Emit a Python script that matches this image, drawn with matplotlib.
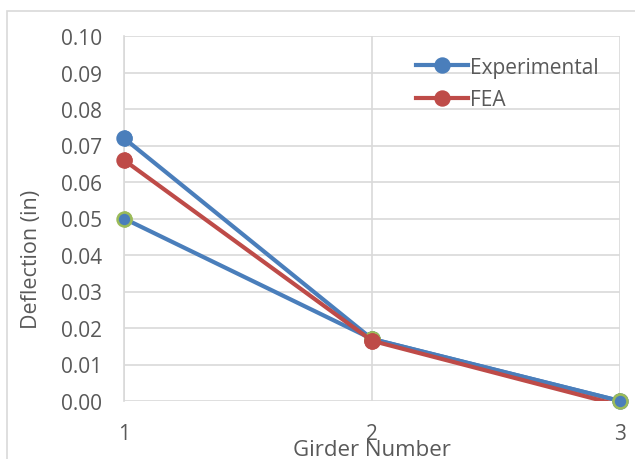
import matplotlib.pyplot as plt
from matplotlib.patches import Rectangle

# data
girders = [1, 2, 3]
experimental = [0.072, 0.017, 0.000]
fea = [0.066, 0.0165, -0.0012]
experimental_2 = [0.050, 0.017, 0.000]
y_ticks = [i / 100 for i in range(0, 11)]

blue = '#4a7ebb'
red = '#be4b48'
green = '#9bbb59'
grid_col = '#d9d9d9'
text_col = '#595959'

plt.rcParams['font.family'] = ['Open Sans', 'DejaVu Sans']

fig = plt.figure(figsize=(6.35, 4.6), dpi=100)
ax = fig.add_axes([124 / 635, 1 - 402 / 460, (620 - 124) / 635, (402 - 37) / 460])

# chart area border like the spreadsheet export
fig.patches.append(Rectangle((7 / 635, -0.01), 0.99, 1 - 12 / 460 + 0.01,
                             transform=fig.transFigure, fill=False,
                             edgecolor='#d9d9d9', linewidth=1.2))


def series(y, col, edge, label, z):
    # line is clipped to the plot area, markers inside the range are not
    ax.plot(girders, y, color=col, linewidth=3, label=label, zorder=z,
            marker='o', markersize=10, markerfacecolor=col,
            markeredgecolor=edge, markeredgewidth=1.8,
            markevery=[i for i, v in enumerate(y) if v >= 0])
    ax.plot([g for g, v in zip(girders, y) if v >= 0], [v for v in y if v >= 0],
            linestyle='none', marker='o', markersize=10, markerfacecolor=col,
            markeredgecolor=edge, markeredgewidth=1.8, clip_on=False, zorder=z)


series(experimental, blue, blue, 'Experimental', 3)
series(experimental_2, blue, green, '_nolegend_', 4)
series(fea, red, red, 'FEA', 5)

ax.set_xlim(1, 3)
ax.set_ylim(0, 0.10)
ax.set_xticks(girders)
ax.set_yticks(y_ticks)
ax.set_yticklabels([f'{v:.2f}' for v in y_ticks])
ax.grid(True, color=grid_col, linewidth=1.2)
ax.set_axisbelow(True)
for s in ax.spines.values():
    s.set_visible(False)
ax.spines['left'].set_visible(True)
ax.spines['left'].set_color(grid_col)
ax.spines['left'].set_linewidth(1.2)
ax.tick_params(length=0, labelsize=15, colors=text_col, pad=16)
ax.tick_params(axis='x', pad=16)

ax.set_xlabel('Girder Number', fontsize=16, color=text_col)
ax.xaxis.set_label_coords(0.5, -0.105)
ax.set_ylabel('Deflection (in)', fontsize=15.5, color=text_col)
ax.yaxis.set_label_coords(-0.165, 0.39)

handles, labels = ax.get_legend_handles_labels()
leg = ax.legend(handles[:1] + handles[-1:], labels[:1] + labels[-1:],
                loc='upper left', bbox_to_anchor=(0.55, 0.995), frameon=False,
                fontsize=15, handlelength=2.5, handletextpad=0.1,
                labelspacing=0.55, labelcolor=text_col)

fig.savefig('out.png', dpi=100)
